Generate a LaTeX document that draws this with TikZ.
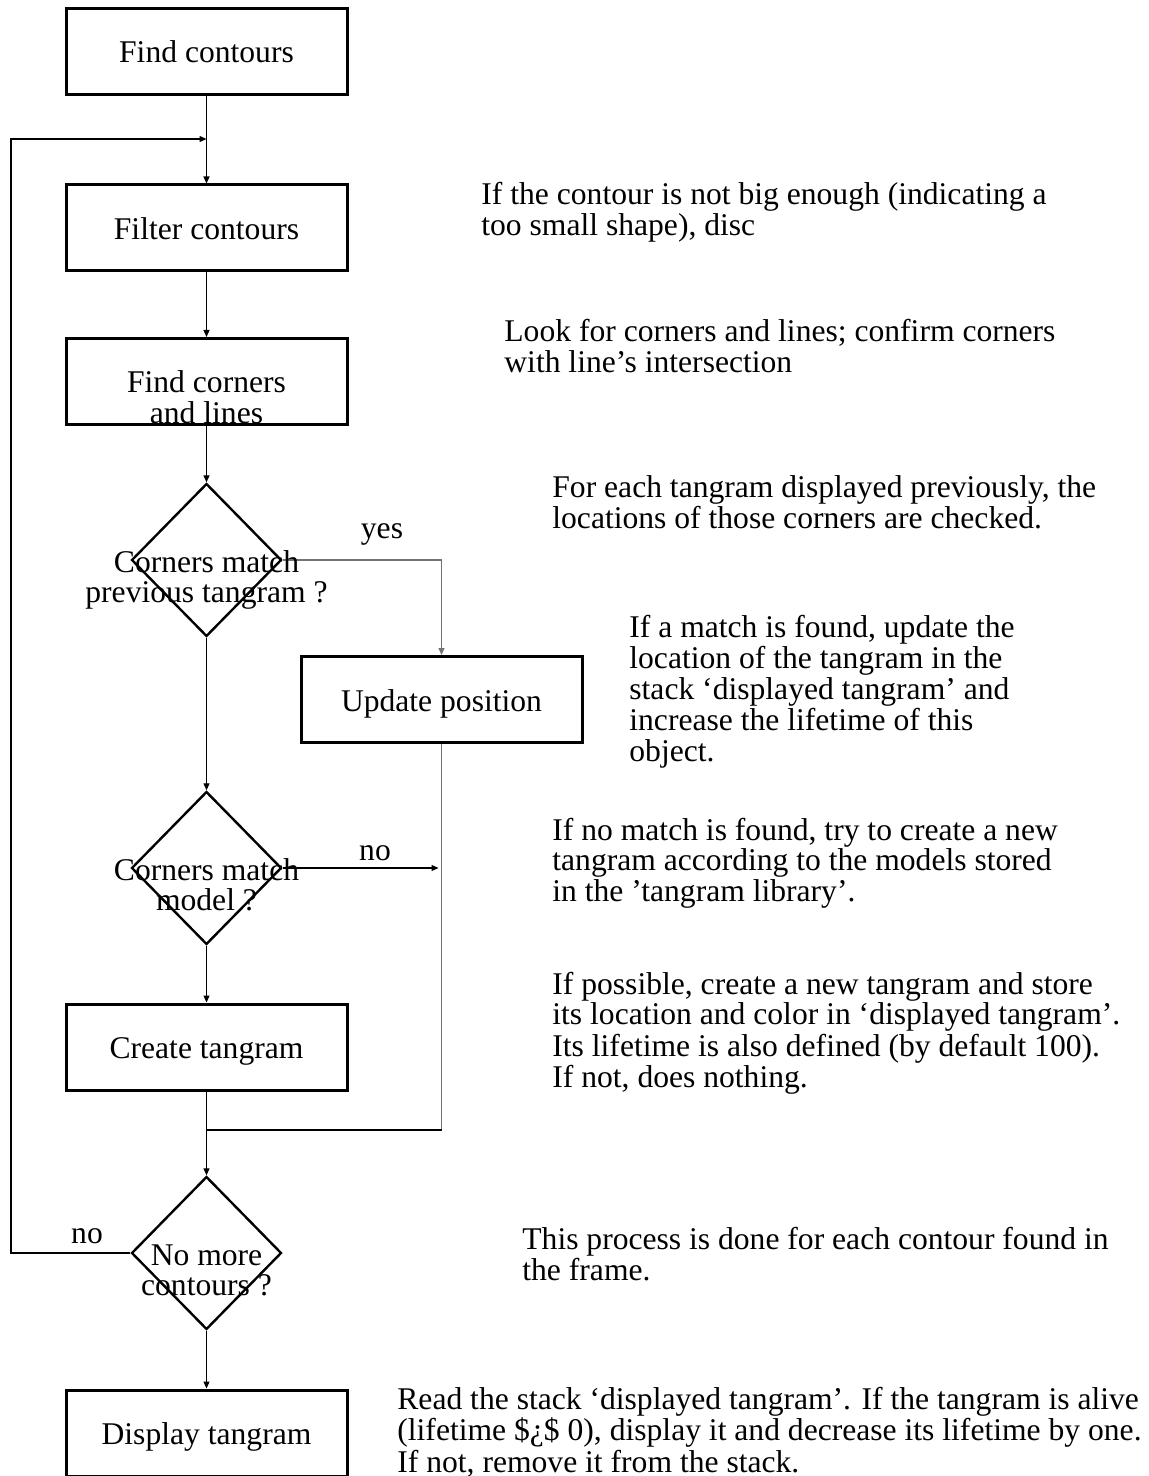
\documentclass[tikz,border=0pt]{standalone}
\usepackage{fontspec}
\setmainfont{Liberation Serif}
\usetikzlibrary{shapes.geometric,arrows.meta}
\definecolor{linkgray}{gray}{0.45}
% several lines stacked, baseline on the first one
\newcommand{\mlines}[2]{\begin{tabular}[t]{@{}#1@{}}#2\end{tabular}}

\begin{document}
\begin{tikzpicture}[x=0.5pt,y=-0.5pt,
  every node/.style={font=\fontsize{15.8}{15}\selectfont},
  stepbox/.style={draw, line width=1.5pt, minimum width=140.5pt, minimum height=43pt,
    inner sep=0pt, text height=11.5pt, text depth=0pt},
  decision/.style={draw, diamond, line width=1.2pt, minimum width=75pt, minimum height=76.5pt, inner sep=0pt},
  dtext/.style={anchor=base, inner sep=0pt},
  note/.style={anchor=base west, inner sep=0pt},
  lbl/.style={anchor=base, inner sep=0pt},
  link/.style={line width=0.6pt},
  flow/.style={line width=0.6pt, -{Triangle[length=3.5pt,width=3pt]}}
]
\useasboundingbox (0,0) rectangle (1149,1476);

% process steps and decisions
\node[stepbox] (find) at (206.5,51.5) {Find contours};
\node[stepbox] (filter) at (206.5,228) {Filter contours};
\node[stepbox] (corners) at (206.5,381.5) {\mlines{c}{Find corners\\and lines}};
\node[decision] (prev) at (206.5,560) {};
\node[stepbox] (update) at (441.5,699.5) {Update position};
\node[decision] (model) at (206.5,868) {};
\node[stepbox] (create) at (206.5,1047) {Create tangram};
\node[decision] (more) at (206.5,1253) {};
\node[stepbox] (display) at (206.5,1433) {Display tangram};

% connector corners
\coordinate (loopin) at (206.5,139);
\coordinate (loopbl) at (11,1253);
\coordinate (looptl) at (11,139);
\coordinate (yesturn) at (441.5,560);
\coordinate (noend) at (441.5,868);
\coordinate (mergeR) at (441.5,1130);
\coordinate (mergeL) at (206.5,1130);

% connectors
\draw[flow] (find) -- (filter);
\draw[flow] (filter) -- (corners);
\draw[flow] (corners) -- (prev);
\draw[flow, linkgray] (prev.east) -- (yesturn) -- (update.north);
\draw[flow] (prev) -- (model);
\draw[flow, shorten >=1.5pt] (model.east) -- (noend);
\draw[link, linkgray] (update.south) -- (mergeR);
\draw[link] (mergeR) -- (mergeL);
\draw[flow] (model) -- (create);
\draw[flow] (create) -- (more);
\draw[flow] (more.west) -- (loopbl) -- (looptl) -- (loopin);
\draw[flow] (more) -- (display);

% decision texts
\node[dtext] (prevtxt) at (206.5,572) {\mlines{c}{Corners match\\previous tangram ?}};
\node[dtext] (modeltxt) at (206.5,880) {\mlines{c}{Corners match\\model ?}};
\node[dtext] (moretxt) at (206.5,1265) {\mlines{c}{No more\\contours ?}};

% branch labels
\node[lbl] (yeslbl) at (382,538) {yes};
\node[lbl] (nolbl) at (375,860) {no};
\node[lbl] (looplbl) at (87,1243) {no};

% explanations
\node[note] (n1) at (481,205) {\mlines{l}{If the contour is not big enough (indicating a\\too small shape), disc}};
\node[note] (n2) at (504,342) {\mlines{l}{Look for corners and lines; confirm corners\\with line’s intersection}};
\node[note] (n3) at (552,497) {\mlines{l}{For each tangram displayed previously, the\\locations of those corners are checked.}};
\node[note] (n4) at (629,637) {\mlines{l}{If a match is found, update the\\location of the tangram in the\\stack ‘displayed tangram’ and\\increase the lifetime of this\\object.}};
\node[note] (n5) at (552,840) {\mlines{l}{If no match is found, try to create a new\\tangram according to the models stored\\in the ’tangram library’.}};
\node[note] (n6) at (552,994) {\mlines{l}{If possible, create a new tangram and store\\its location and color in ‘displayed tangram’.\\Its lifetime is also defined (by default 100).\\If not, does nothing.}};
\node[note] (n7) at (522,1249) {\mlines{l}{This process is done for each contour found in\\the frame.}};
\node[note] (n8) at (397,1409) {\mlines{l}{Read the stack ‘displayed tangram’. If the tangram is alive\\(lifetime \$¿\$ 0), display it and decrease its lifetime by one.\\If not, remove it from the stack.}};
\end{tikzpicture}
\end{document}
